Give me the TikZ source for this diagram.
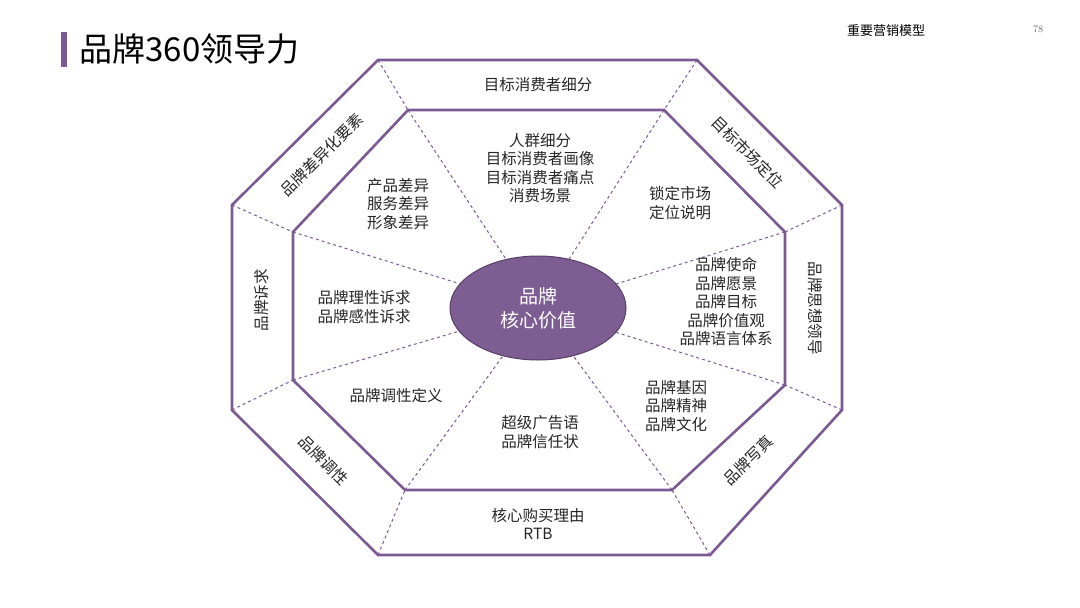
\documentclass[tikz,border=0pt]{standalone}
\usepackage{fontspec}
\usetikzlibrary{shapes.geometric}
\newfontfamily\cjk{Noto Sans CJK SC}
\definecolor{pur}{HTML}{7B5A93}
\definecolor{efill}{HTML}{7E5D92}
\begin{document}
\begin{tikzpicture}[x=1pt,y=-1pt,
  lbl/.style={font=\cjk\fontsize{15.5}{18.5}\selectfont,align=center,text=black!85},
  dsh/.style={draw=pur,dashed,line width=1pt},
  oct/.style={draw=pur,line width=2.6pt,line join=miter}]
\useasboundingbox (0,0) rectangle (1080,608);
\fill[pur] (61,32) rectangle (67,67);
\node[anchor=west,font=\cjk\fontsize{33}{36}\selectfont] (title) at (76,49) {品牌360领导力};
\node[font=\cjk\fontsize{13}{15}\selectfont] (tr) at (886,31) {重要营销模型};
\node[font=\fontsize{10}{12}\selectfont,text=black!60] (pg) at (1038,29) {78};
\coordinate (o1) at (378,60); \coordinate (o2) at (697,60);
\coordinate (o3) at (842,205); \coordinate (o4) at (842,410);
\coordinate (o5) at (710,555); \coordinate (o6) at (378,555);
\coordinate (o7) at (232,410); \coordinate (o8) at (232,205);
\coordinate (i1) at (408,110); \coordinate (i2) at (664,110);
\coordinate (i3) at (785,232); \coordinate (i4) at (785,385);
\coordinate (i5) at (672,490); \coordinate (i6) at (405,490);
\coordinate (i7) at (293,380); \coordinate (i8) at (293,232);
\node[ellipse,draw=pur!70!black,line width=1pt,fill=efill,minimum width=176pt,minimum height=104pt,inner sep=0pt] (ell) at (538,308) {};
\node[font=\cjk\fontsize{19}{24}\selectfont,text=white,align=center] (ct) at (538,308) {品牌\\核心价值};
\foreach \k in {1,...,8}{
  \draw[dsh] (o\k) -- (i\k);
  \draw[dsh] (i\k) -- (ell);
}
\draw[oct] (o1)--(o2)--(o3)--(o4)--(o5)--(o6)--(o7)--(o8)--cycle;
\draw[oct] (i1)--(i2)--(i3)--(i4)--(i5)--(i6)--(i7)--(i8)--cycle;
\node[lbl] (l1) at (538,85) {目标消费者细分};
\node[lbl,rotate=-45] (l2) at (748,152) {目标市场定位};
\node[lbl,rotate=-90] (l3) at (815,308) {品牌思想领导};
\node[lbl,rotate=45] (l4) at (748,460) {品牌写真};
\node[lbl] (l5) at (538,524) {核心购买理由\\RTB};
\node[lbl,rotate=-45] (l6) at (324,460) {品牌调性};
\node[lbl,rotate=90] (l7) at (262,300) {品牌诉求};
\node[lbl,rotate=45] (l8) at (322,155) {品牌差异化要素};
\node[lbl] (n1) at (540,168) {人群细分\\目标消费者画像\\目标消费者痛点\\消费场景};
\node[lbl] (n2) at (680,203) {锁定市场\\定位说明};
\node[lbl] (n3) at (726,302) {品牌使命\\品牌愿景\\品牌目标\\品牌价值观\\品牌语言体系};
\node[lbl] (n4) at (676,406) {品牌基因\\品牌精神\\品牌文化};
\node[lbl] (n5) at (540,432) {超级广告语\\品牌信任状};
\node[lbl] (n6) at (396,396) {品牌调性定义};
\node[lbl] (n7) at (364,307) {品牌理性诉求\\品牌感性诉求};
\node[lbl] (n8) at (398,204) {产品差异\\服务差异\\形象差异};
\end{tikzpicture}
\end{document}
